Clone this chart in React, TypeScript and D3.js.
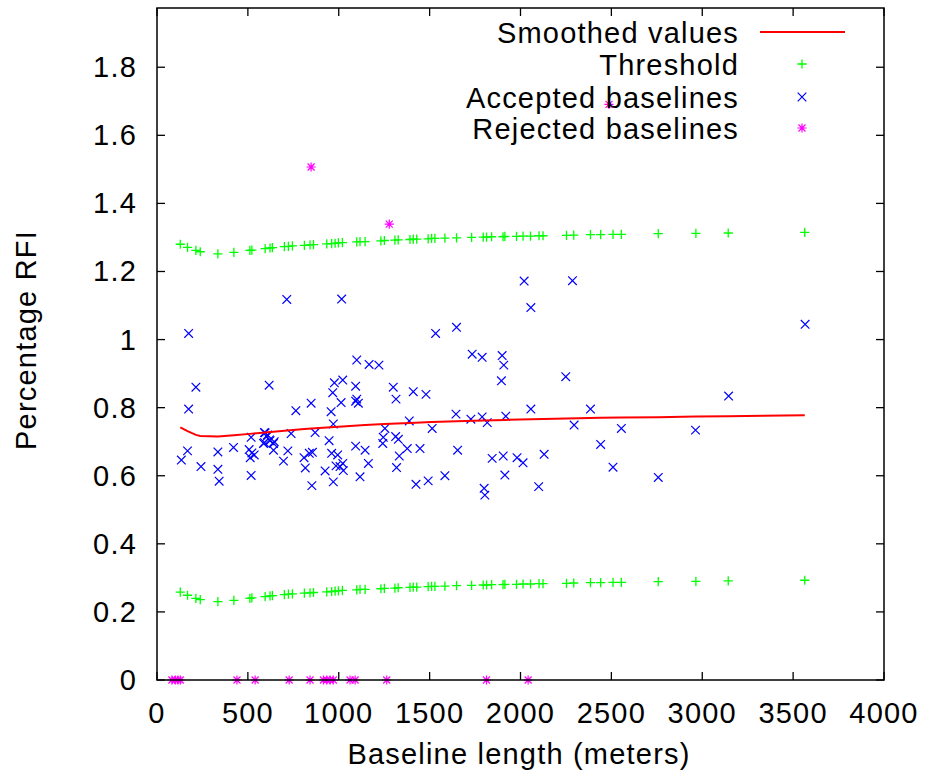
import React from "react";
import * as d3 from "d3";

// ---- Data ----
const thresholdX = [128,168,214,238,335,423,511,522,595,622,635,701,723,745,811,842,861,934,961,980,998,1020,1099,1117,1145,1232,1251,1309,1327,1392,1410,1429,1492,1511,1529,1584,1648,1731,1795,1813,1841,1904,1914,1978,2014,2055,2102,2124,2253,2293,2385,2441,2509,2555,2758,2965,3143,3564];
const thresholdUpper = [1.280,1.271,1.262,1.258,1.252,1.256,1.262,1.263,1.267,1.269,1.270,1.273,1.274,1.275,1.277,1.278,1.279,1.281,1.282,1.283,1.284,1.285,1.287,1.288,1.288,1.290,1.291,1.292,1.293,1.294,1.295,1.295,1.296,1.297,1.297,1.298,1.299,1.300,1.301,1.301,1.302,1.302,1.303,1.303,1.304,1.304,1.305,1.305,1.306,1.307,1.308,1.308,1.309,1.309,1.311,1.312,1.313,1.315];
const thresholdLower = [0.258,0.249,0.240,0.236,0.230,0.234,0.240,0.241,0.245,0.247,0.248,0.251,0.252,0.253,0.255,0.256,0.257,0.259,0.260,0.261,0.262,0.263,0.265,0.266,0.266,0.268,0.269,0.270,0.271,0.272,0.273,0.273,0.274,0.275,0.275,0.276,0.277,0.278,0.279,0.279,0.280,0.280,0.281,0.281,0.282,0.282,0.283,0.283,0.284,0.285,0.286,0.286,0.287,0.287,0.289,0.290,0.291,0.293];

const smoothedX = [128,168,214,238,335,423,511,595,701,811,934,1020,1145,1251,1392,1511,1648,1795,1914,2060,2253,2441,2555,2758,2965,3143,3564];
const smoothedY = [0.742,0.731,0.720,0.717,0.715,0.719,0.723,0.727,0.732,0.737,0.742,0.745,0.749,0.752,0.755,0.758,0.760,0.762,0.764,0.766,0.768,0.770,0.771,0.772,0.774,0.775,0.778];

const acceptedX = [134,168,174,174,214,242,335,335,342,421,
  518,507,522,535,513,518,591,608,619,591,645,641,595,604,617,622,641,586,696,
  714,720,738,764,809,816,838,855,848,852,870,
  925,947,958,961,967,970,970,976,985,994,1007,1013,1016,1022,1022,1025,1093,1099,1099,1093,1108,1093,1117,1145,1163,1167,
  1221,1242,1245,1254,1300,1313,1315,1318,1328,1333,1377,1388,1410,1425,1447,1480,1492,
  1514,1533,1584,1645,1648,1654,1727,1734,1789,1789,1800,1804,1817,1844,1895,1899,1908,1905,1914,1919,1981,
  2014,2020,2057,2057,2100,2130,2249,2286,2295,2385,2441,2509,2555,2758,2963,3145,3566];
const acceptedY = [0.646,0.673,1.018,0.796,0.860,0.627,0.670,0.619,0.584,0.683,
  0.713,0.677,0.667,0.661,0.653,0.601,0.727,0.720,0.705,0.697,0.700,0.675,0.726,0.715,0.866,0.703,0.695,0.695,0.643,
  1.118,0.673,0.724,0.791,0.653,0.623,0.666,0.669,0.813,0.571,0.727,
  0.614,0.703,0.788,0.666,0.844,0.752,0.582,0.873,0.629,0.661,0.627,0.815,1.119,0.881,0.636,0.615,0.863,0.940,0.825,0.819,0.813,0.687,0.597,0.675,0.636,0.927,
  0.925,0.695,0.713,0.739,0.860,0.715,0.825,0.624,0.707,0.658,0.680,0.761,0.847,0.575,0.680,0.839,0.585,
  0.739,1.018,0.600,0.781,1.036,0.675,0.766,0.957,0.948,0.773,0.563,0.543,0.756,0.651,0.879,0.953,0.925,0.658,0.602,0.775,0.653,
  0.638,1.172,1.094,0.796,0.568,0.663,0.891,1.173,0.749,0.796,0.692,0.625,0.739,0.595,0.734,0.834,1.045];

const rejectedX = [82,101,115,128,440,540,727,842,916,934,952,970,1062,1090,1264,1813,2042,848,1278,2487];
const rejectedY = [0,0,0,0,0,0,0,0,0,0,0,0,0,0,0,0,0,1.507,1.339,1.691];

const xTicks = [0,500,1000,1500,2000,2500,3000,3500,4000];
const yTicks = [0,0.2,0.4,0.6,0.8,1,1.2,1.4,1.6,1.8];
const legendLabels = ["Smoothed values","Threshold","Accepted baselines","Rejected baselines"];

// ---- Layout ----
const W = 925, H = 778;
const L = 157, R = 884, T = 8, B = 680;
const FONT = "Arial, 'Liberation Sans', Helvetica, sans-serif";
const FS = 29;
const LS = 1.2;

const plusPath = "M-4.6,0H4.6M0,-4.6V4.6";
const crossPath = "M-4.3,-4.3L4.3,4.3M-4.3,4.3L4.3,-4.3";
const starPath = "M-4.6,0H4.6M0,-4.6V4.6M-3.5,-3.5L3.5,3.5M-3.5,3.5L3.5,-3.5";

export default function App() {
  const x = d3.scaleLinear().domain([0, 4000]).range([L, R]);
  const y = d3.scaleLinear().domain([0, 1.974]).range([B, T]);
  const line = d3.line<number>().x((_, i) => x(smoothedX[i])).y((d) => y(d));
  const tick = 8;
  const fmt = (v: number) => (v === 0 ? "0" : v === 1 ? "1" : d3.format(".1f")(v));
  const legendTextX = 739;
  const legendRowY = [32, 64, 97, 128];
  const legendSymX = 802;

  return (
    <svg width={W} height={H} style={{ position: "absolute", left: 0, top: 0, background: "#fff" }}
      fontFamily={FONT} fontSize={FS} fill="#000">
      <rect x={0} y={0} width={W} height={H} fill="#fff" />
      {/* ticks */}
      <g stroke="#000" strokeWidth={1.3}>
        {xTicks.map((t) => (
          <g key={"xt" + t}>
            <line x1={x(t)} x2={x(t)} y1={B} y2={B - tick} />
            <line x1={x(t)} x2={x(t)} y1={T} y2={T + tick} />
          </g>
        ))}
        {yTicks.map((t) => (
          <g key={"yt" + t}>
            <line x1={L} x2={L + tick} y1={y(t)} y2={y(t)} />
            <line x1={R} x2={R - tick} y1={y(t)} y2={y(t)} />
          </g>
        ))}
      </g>
      {/* tick labels */}
      {xTicks.map((t) => (
        <text key={"xl" + t} x={x(t)} y={723} textAnchor="middle" letterSpacing={LS}>{t}</text>
      ))}
      {yTicks.map((t) => (
        <text key={"yl" + t} x={137} y={y(t) + 10} textAnchor="end" letterSpacing={LS}>{fmt(t)}</text>
      ))}
      {/* axis titles */}
      <text x={519} y={764} textAnchor="middle" letterSpacing={LS}>Baseline length (meters)</text>
      <text transform={`translate(36,340) rotate(-90)`} textAnchor="middle" letterSpacing={LS}>Percentage RFI</text>

      {/* threshold */}
      <g stroke="#00ff00" strokeWidth={1.3} fill="none">
        {thresholdX.map((v, i) => (
          <path key={"tu" + i} d={plusPath} transform={`translate(${x(v)},${y(thresholdUpper[i])})`} />
        ))}
        {thresholdX.map((v, i) => (
          <path key={"tl" + i} d={plusPath} transform={`translate(${x(v)},${y(thresholdLower[i])})`} />
        ))}
      </g>
      {/* accepted */}
      <g stroke="#0000ff" strokeWidth={1.2} fill="none">
        {acceptedX.map((v, i) => (
          <path key={"a" + i} d={crossPath} transform={`translate(${x(v)},${y(acceptedY[i])})`} />
        ))}
      </g>
      {/* rejected */}
      <g stroke="#ff00ff" strokeWidth={1.2} fill="none">
        {rejectedX.map((v, i) => (
          <path key={"r" + i} d={starPath} transform={`translate(${x(v)},${y(rejectedY[i])})`} />
        ))}
      </g>
      {/* smoothed line */}
      <path d={line(smoothedY) || ""} stroke="#ff0000" strokeWidth={2} fill="none" />

      {/* frame */}
      <rect x={L} y={T} width={R - L} height={B - T} fill="none" stroke="#000" strokeWidth={1.5} />

      {/* legend */}
      {legendLabels.map((lab, i) => (
        <text key={"lg" + i} x={legendTextX} y={legendRowY[i] + 10.5} textAnchor="end" letterSpacing={LS}>{lab}</text>
      ))}
      <line x1={760} x2={845} y1={legendRowY[0]} y2={legendRowY[0]} stroke="#ff0000" strokeWidth={2} />
      <path d={plusPath} transform={`translate(${legendSymX},${legendRowY[1]})`} stroke="#00ff00" strokeWidth={1.3} fill="none" />
      <path d={crossPath} transform={`translate(${legendSymX},${legendRowY[2]})`} stroke="#0000ff" strokeWidth={1.2} fill="none" />
      <path d={starPath} transform={`translate(${legendSymX},${legendRowY[3]})`} stroke="#ff00ff" strokeWidth={1.2} fill="none" />
    </svg>
  );
}
